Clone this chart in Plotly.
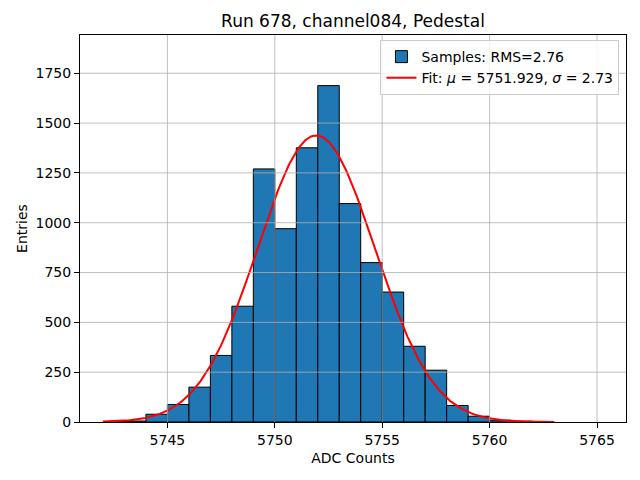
import numpy as np
import plotly.graph_objects as go

# histogram of pedestal samples, 1 ADC count per bin
bin_lefts = list(range(5742, 5763))
counts = [1, 5, 39, 88, 175, 334, 581, 1270, 970, 1376, 1688,
          1096, 800, 652, 380, 260, 83, 29, 9, 4, 1]

# gaussian fit parameters from the legend
fit_mu = 5751.929
fit_sigma = 2.73
fit_amp = 1438.0
fit_range = [5742, 5763]
rms = 2.76

x_ticks = [5745, 5750, 5755, 5760, 5765]
y_ticks = [0, 250, 500, 750, 1000, 1250, 1500, 1750]

font = "DejaVu Sans"

centers = np.array(bin_lefts) + 0.5
xf = np.linspace(fit_range[0], fit_range[1], 300)
yf = fit_amp * np.exp(-0.5 * ((xf - fit_mu) / fit_sigma) ** 2)

fig = go.Figure()
fig.add_trace(go.Bar(
    x=centers, y=counts, width=1,
    marker=dict(color="#1f77b4", line=dict(color="black", width=1)),
    name=f"Samples: RMS={rms:.2f}",
))
fig.add_trace(go.Scatter(
    x=xf, y=yf, mode="lines",
    line=dict(color="red", width=2),
    name=f"Fit: <i>μ</i> = {fit_mu:.3f}, <i>σ</i> = {fit_sigma:.2f}",
))

# matplotlib draws the grid on top of the bars
shapes = []
for t in x_ticks:
    shapes.append(dict(type="line", xref="x", yref="paper", x0=t, x1=t, y0=0, y1=1,
                       line=dict(color="#b0b0b0", width=0.8), layer="above"))
for t in y_ticks[1:]:
    shapes.append(dict(type="line", xref="paper", yref="y", x0=0, x1=1, y0=t, y1=t,
                       line=dict(color="#b0b0b0", width=0.8), layer="above"))

axis_style = dict(
    showline=True, linecolor="black", linewidth=1, mirror=True,
    ticks="outside", ticklen=5, tickcolor="black", tickwidth=1,
    showgrid=False, zeroline=False, automargin=False,
    tickfont=dict(family=font, size=14, color="black"),
)

# page body adds an 8px margin, so the figure is drawn 8px smaller
W, H = 632, 472

fig.update_layout(
    width=W, height=H,
    margin=dict(l=72, r=14, t=27, b=58),
    paper_bgcolor="white", plot_bgcolor="white",
    font=dict(family=font, size=14, color="black"),
    title=dict(text="Run 678, channel084, Pedestal", x=345 / W, xanchor="center",
               y=1 - 13 / H, yanchor="middle", font=dict(family=font, size=17)),
    xaxis=dict(range=[5740.93, 5766.35], tickvals=x_ticks,
               title=dict(text="ADC Counts", font=dict(size=14), standoff=6), **axis_style),
    yaxis=dict(range=[0, 1942], tickvals=y_ticks,
               title=dict(text="Entries", font=dict(size=14), standoff=4), **axis_style),
    legend=dict(x=0.988, y=0.987, xanchor="right", yanchor="top",
                bgcolor="rgba(255,255,255,0.8)", bordercolor="#cccccc", borderwidth=1,
                font=dict(family=font, size=14), tracegroupgap=0),
    shapes=shapes,
    showlegend=True,
)

fig.write_html("out.html")
